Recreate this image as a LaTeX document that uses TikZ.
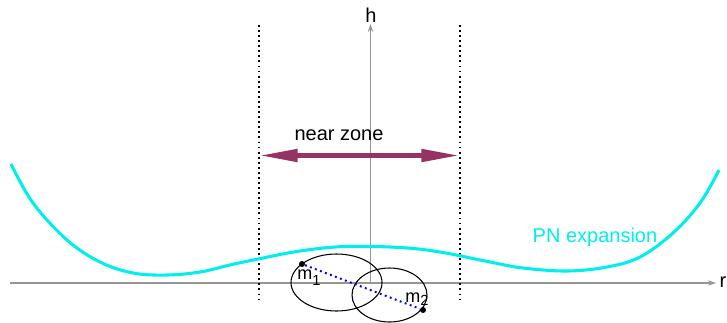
\documentclass[tikz,border=0pt]{standalone}
\usepackage{fontspec}
\setmainfont{Liberation Sans}
\usetikzlibrary{arrows.meta,shapes.geometric}
\definecolor{axisgray}{RGB}{150,150,150}
\definecolor{zonecol}{RGB}{150,50,100}
\definecolor{pncyan}{RGB}{0,238,238}
\begin{document}
\begin{tikzpicture}[x=0.75pt,y=-0.75pt,
  axis/.style={draw=axisgray,line width=1.3pt,-{Stealth[length=6pt,width=4pt]}},
  zoneline/.style={draw=black,line width=1.5pt,dash pattern=on 1.4pt off 2.4pt},
  lbl/.style={font=\fontsize{15}{18}\selectfont,inner sep=0pt},
  mass/.style={circle,fill=black,inner sep=0pt,minimum size=4.5pt},
  orbit/.style={draw=black,line width=0.8pt,ellipse,inner sep=0pt},
  mlbl/.style={font=\fontsize{13.5}{16}\selectfont,inner sep=0pt,anchor=base west}]
\useasboundingbox (0,0) rectangle (727,322);
% axes
\coordinate (rs) at (10,283);
\coordinate (re) at (716,283);
\coordinate (hs) at (370.5,283);
\coordinate (he) at (370.5,24);
\draw[axis] (rs) -- (re);
\draw[axis] (hs) -- (he);
\node[lbl] (rl) at (723,282) {r};
\node[lbl] (hl) at (371,15) {h};
% near zone boundaries
\coordinate (z1t) at (259,25);
\coordinate (z1b) at (259,301);
\coordinate (z2t) at (460,25);
\coordinate (z2b) at (460,301);
\draw[zoneline] (z1t) -- (z1b);
\draw[zoneline] (z2t) -- (z2b);
% near zone arrow
\coordinate (al) at (259,155.5);
\coordinate (ar) at (460,155.5);
\draw[draw=zonecol,line width=3.6pt,{Triangle[length=29pt,width=9pt]}-{Triangle[length=29pt,width=9pt]}] (al) -- (ar);
\node[lbl] (nz) at (339,135) {near zone};
% PN curve
\draw[pncyan,line width=2.3pt] plot[smooth,tension=0.6] coordinates {
 (11,164) (33,203) (67,240) (100,262) (133,273) (167,275) (200,272) (230,265)
 (258,259) (300,251) (345,246.5) (400,247.5) (440,252) (490,262) (523,268) (567,271)
 (607,267) (640,257) (673,233) (700,203) (719,170)};
\node[lbl,text=pncyan] (pn) at (595,237) {PN expansion};
% orbits
\node[orbit,minimum width=68.25pt,minimum height=42.75pt] (o1) at (336.5,282.5) {};
\node[orbit,minimum width=56.25pt,minimum height=40.5pt] (o2) at (389.5,295) {};
% masses
\node[mass] (m1) at (302,264) {};
\node[mass] (m2) at (423,310) {};
\draw[blue,line width=1.5pt,dash pattern=on 1.4pt off 2.6pt] (m1) -- (m2);
\node[mlbl] (m1l) at (297,279) {m\raisebox{-0.7ex}{\fontsize{11}{12}\selectfont 1}};
\node[mlbl] (m2l) at (405,302) {m\raisebox{-0.4ex}{\fontsize{11}{12}\selectfont 2}};
\end{tikzpicture}
\end{document}
